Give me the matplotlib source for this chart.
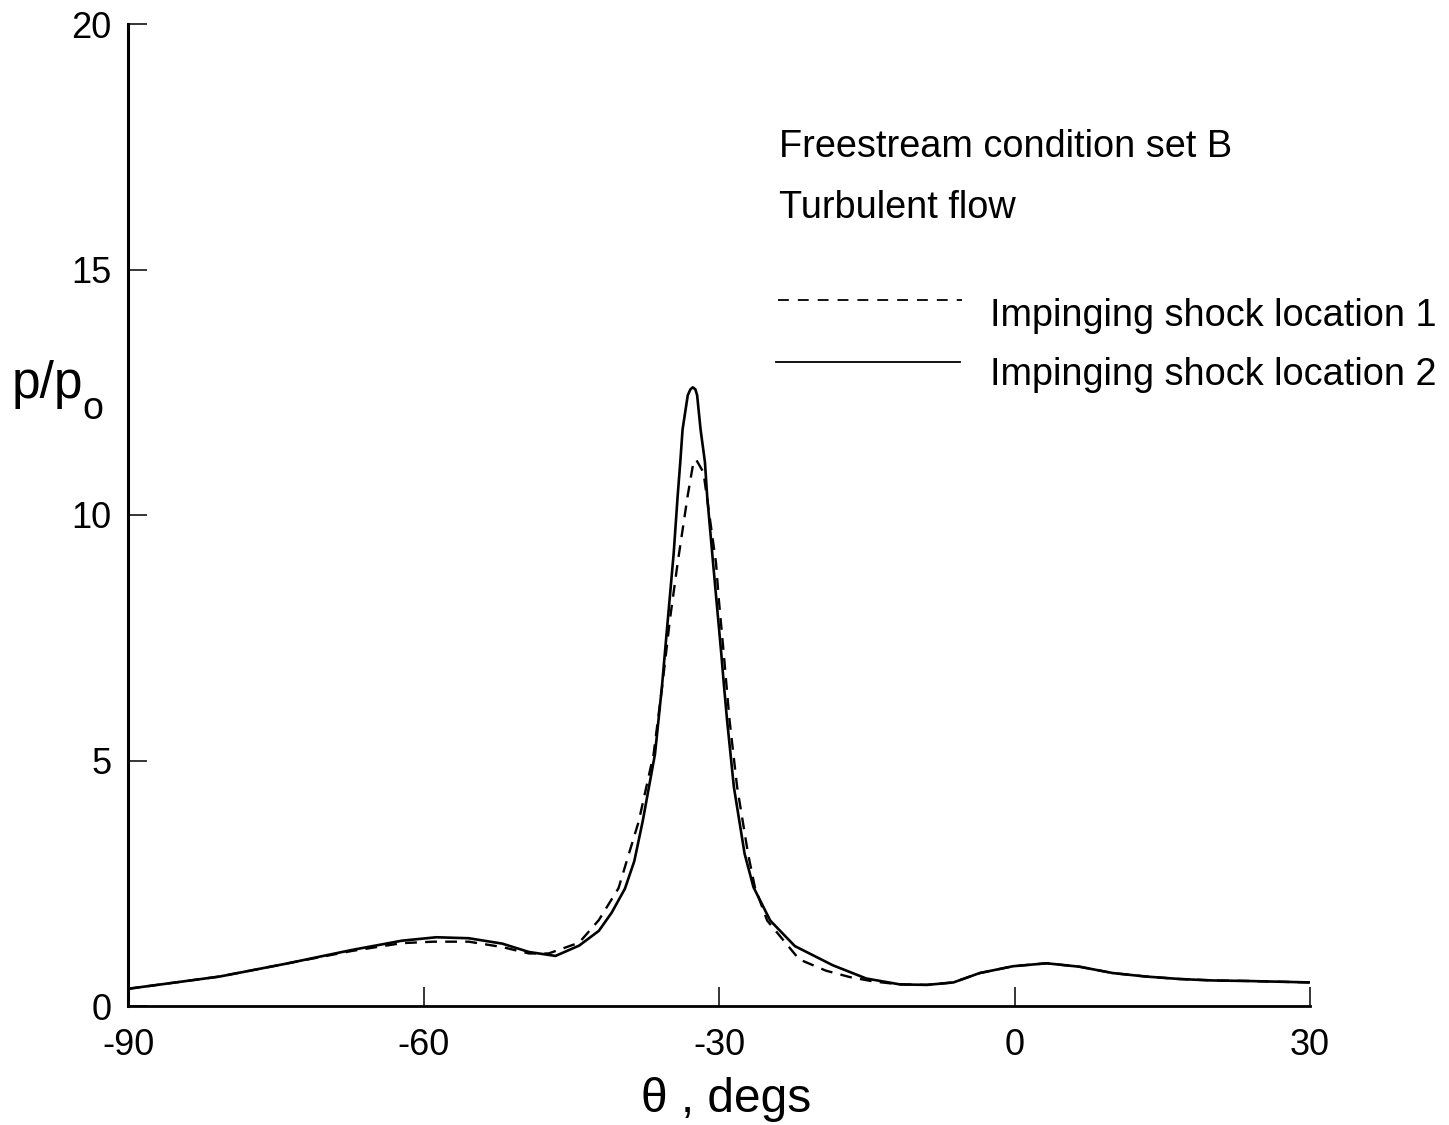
import matplotlib
matplotlib.use("Agg")
import matplotlib.pyplot as plt
from matplotlib.lines import Line2D

# ---- data (theta in degrees, p/p0) ----
theta_loc2 = [-90, -80.7, -74.0, -67.3, -62.2, -58.7, -55.4, -52.0, -49.3, -46.6,
              -44.2, -42.2, -40.9, -39.55, -38.6, -37.75, -36.5, -35.8, -35.2, -34.6,
              -34.2, -33.93, -33.7, -33.17, -32.9, -32.66, -32.4, -32.22, -31.87, -31.43,
              -31.2, -30.6, -29.77, -29.48, -29.18, -28.49, -27.4, -26.5, -24.8, -22.3,
              -18.45, -15.05, -11.65, -8.9, -6.2, -3.55, -0.15, 3.25, 6.6, 10.0,
              13.35, 16.75, 20.15, 23.55, 30]
p_loc2 = [0.35, 0.60, 0.86, 1.14, 1.33, 1.40, 1.38, 1.27, 1.10, 1.02,
          1.23, 1.53, 1.90, 2.39, 2.95, 3.76, 5.13, 6.49, 7.86, 9.22,
          10.38, 11.08, 11.74, 12.44, 12.56, 12.60, 12.56, 12.44, 11.74, 11.08,
          10.38, 9.02, 7.18, 6.49, 5.82, 4.46, 3.10, 2.42, 1.74, 1.22,
          0.83, 0.56, 0.44, 0.43, 0.48, 0.67, 0.81, 0.87, 0.80, 0.67,
          0.60, 0.55, 0.52, 0.51, 0.48]

theta_loc1 = [-90, -80.7, -74.0, -67.3, -62.2, -59.0, -55.4, -52.0, -49.3, -47.3,
              -44.2, -42.2, -40.2, -38.15, -36.64, -35.78, -34.99, -34.2, -33.19, -32.66,
              -32.33, -31.58, -30.3, -30.05, -29.52, -28.93, -28.16, -27.05, -26.36, -25.11,
              -21.86, -19.15, -16.74, -14.33, -11.65, -8.9, -6.2, -3.55, -0.15, 3.25,
              6.6, 10.0, 13.35, 16.75, 20.15, 23.55, 30]
p_loc1 = [0.35, 0.60, 0.86, 1.12, 1.28, 1.31, 1.31, 1.20, 1.07, 1.07,
          1.29, 1.75, 2.40, 3.76, 5.13, 6.49, 7.86, 9.02, 10.38, 11.00,
          11.13, 10.87, 9.02, 8.35, 7.18, 5.82, 4.46, 3.10, 2.42, 1.74,
          0.95, 0.72, 0.59, 0.50, 0.44, 0.43, 0.48, 0.67, 0.81, 0.87,
          0.80, 0.67, 0.60, 0.55, 0.52, 0.51, 0.48]

x_ticks = [-90, -60, -30, 0, 30]
y_ticks = [0, 5, 10, 15, 20]
series_labels = ["Impinging shock location 1", "Impinging shock location 2"]
note_lines = ["Freestream condition set B", "Turbulent flow"]

FONT = "Liberation Sans"
plt.rcParams["font.family"] = [FONT, "DejaVu Sans"]

W, H = 1449, 1125
fig = plt.figure(figsize=(W / 100, H / 100), dpi=100)


def fx(px):
    return px / W


def fy(py):
    return 1 - py / H


ax = fig.add_axes([fx(128), fy(1006), (1310 - 128) / W, (1006 - 24) / H])

ax.plot(theta_loc1, p_loc1, color="black", lw=1.7, linestyle=(0, (5, 3.5)),
        solid_joinstyle="round", dash_joinstyle="round")
ax.plot(theta_loc2, p_loc2, color="black", lw=1.9, solid_joinstyle="round")

ax.set_xlim(-90, 30)
ax.set_ylim(0, 20)
ax.set_xticks(x_ticks)
ax.set_yticks(y_ticks)
ax.set_xticklabels([str(v) for v in x_ticks])
ax.set_yticklabels([str(v) for v in y_ticks])

for s in ["top", "right"]:
    ax.spines[s].set_visible(False)
ax.spines["left"].set_linewidth(2.2)
ax.spines["bottom"].set_linewidth(2.0)

ax.tick_params(axis="both", direction="in", length=14, width=1.1, colors="black",
               labelsize=26)
ax.tick_params(axis="x", pad=16)
ax.tick_params(axis="y", pad=12)

ax.set_xlabel("\u03b8 , degs", fontsize=34.5)
ax.xaxis.set_label_coords((726 - 128) / (1310 - 128), -0.072)

# y label  p/p_o
fig.text(fx(12), fy(398), "p/p", fontsize=37, ha="left", va="baseline")
fig.text(fx(82), fy(419), "o", fontsize=27, ha="left", va="baseline")

# annotations
fig.text(fx(779), fy(157), note_lines[0], fontsize=27.3, ha="left", va="baseline")
fig.text(fx(779), fy(218), note_lines[1], fontsize=27.3, ha="left", va="baseline")

# legend
fig.add_artist(Line2D([fx(778), fx(962)], [fy(300), fy(300)], color="black",
                      lw=1.3, linestyle=(0, (6, 5))))
fig.add_artist(Line2D([fx(776), fx(960)], [fy(362), fy(362)], color="black", lw=1.3))
fig.text(fx(990), fy(326), series_labels[0], fontsize=27.3, ha="left", va="baseline")
fig.text(fx(990), fy(385), series_labels[1], fontsize=27.3, ha="left", va="baseline")

fig.savefig("out.png", dpi=100, facecolor="white")
